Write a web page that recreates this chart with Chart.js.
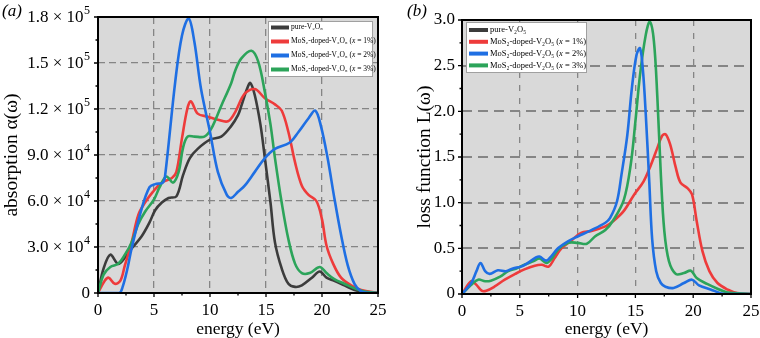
<!DOCTYPE html>
<html>
<head>
<meta charset="utf-8">
<script src="https://cdn.jsdelivr.net/npm/chart.js@4.4.1/dist/chart.umd.min.js"></script>
<style>
  body { margin: 0; background: #fff; }
  #wrap { position: relative; width: 760px; height: 338px; overflow: hidden; }
  canvas { position: absolute; top: 0; }
</style>
</head>
<body>
<div id="wrap">
  <canvas id="chartA" width="400" height="338" style="left:0"></canvas>
  <canvas id="chartB" width="380" height="338" style="left:380px"></canvas>
</div>
<script>
const seriesNames = ['pure-V₂O₅', 'MoS₂-doped-V₂O₅ (x = 1%)', 'MoS₂-doped-V₂O₅ (x = 2%)', 'MoS₂-doped-V₂O₅ (x = 3%)'];
const seriesColors = ['#3c3c3c', '#ee3b3b', '#1f6fe3', '#2ca45a'];
// (a) y tick labels: mantissa × 10^exponent
const absTickBase = ['0', '3.0 × 10', '6.0 × 10', '9.0 × 10', '1.2 × 10', '1.5 × 10', '1.8 × 10'];
const absTickExp = ['', '4', '4', '4', '5', '5', '5'];
const lossTickLabels = ['0', '0.5', '1.0', '1.5', '2.0', '2.5', '3.0'];

// (a) absorption, values in units of 1e4
const absPureE = [0, 0.5, 1.1, 1.8, 2.4, 3.0, 3.9, 4.6, 5.1, 5.7, 6.3, 7.0, 7.6, 8.2, 8.9, 10.0, 11.0, 11.9, 12.5, 12.8, 13.3, 13.6, 14.0, 14.5, 14.9, 15.4, 15.8, 16.4, 17.0, 17.6, 18.2, 19.1, 19.8, 20.4, 21.1, 22.0, 22.9, 24.0, 25];
const absPureV = [0, 1.6, 2.5, 1.9, 2.3, 2.9, 3.7, 4.6, 5.4, 5.9, 6.2, 6.3, 7.7, 8.8, 9.4, 10.0, 10.2, 10.9, 11.6, 12.2, 13.3, 13.7, 12.9, 11.0, 8.8, 5.9, 3.3, 1.6, 0.6, 0.4, 0.5, 1.0, 1.4, 1.0, 0.8, 0.5, 0.2, 0.05, 0];
const abs1E = [0, 0.6, 0.95, 1.5, 2.0, 2.4, 3.0, 3.6, 4.2, 4.9, 5.7, 6.6, 7.0, 7.5, 8.0, 8.3, 8.9, 9.8, 10.7, 11.6, 12.25, 13.1, 14.0, 14.9, 15.8, 16.4, 17.0, 17.6, 18.2, 18.8, 19.5, 20.0, 20.4, 21.0, 21.7, 22.6, 23.5, 25];
const abs1V = [0, 0.8, 1.0, 0.6, 0.8, 1.8, 3.3, 5.1, 5.9, 6.6, 7.2, 7.5, 7.9, 10.1, 12.1, 12.5, 11.7, 11.5, 11.3, 11.2, 11.8, 13.0, 13.3, 12.7, 12.3, 11.9, 10.5, 8.5, 7.0, 6.4, 6.0, 4.8, 3.1, 1.9, 1.0, 0.5, 0.2, 0];
const abs2E = [0, 1.9, 2.2, 2.6, 3.0, 3.9, 4.6, 5.1, 5.8, 6.0, 6.9, 7.5, 8.1, 8.6, 9.2, 10.0, 10.7, 11.5, 11.9, 12.5, 13.1, 14.0, 14.9, 15.8, 17.1, 17.9, 18.8, 19.4, 19.9, 20.5, 21.1, 21.7, 22.3, 22.9, 23.5, 24.2, 25];
const abs2V = [0, 0, 0.4, 1.5, 2.9, 5.5, 6.9, 7.1, 7.2, 7.7, 13.8, 16.8, 17.9, 16.4, 13.3, 10.5, 7.9, 6.4, 6.2, 6.6, 7.0, 7.9, 8.8, 9.4, 9.8, 10.5, 11.4, 11.9, 10.9, 8.8, 6.2, 3.8, 1.8, 0.6, 0.1, 0, 0];
const abs3E = [0, 0.5, 1.1, 1.8, 2.4, 3.0, 3.6, 4.2, 5.0, 5.5, 6.1, 6.7, 7.2, 7.6, 8.0, 8.6, 9.5, 10.1, 11.0, 11.9, 12.25, 12.8, 13.7, 14.3, 14.9, 15.4, 15.8, 16.4, 17.0, 17.6, 18.2, 18.9, 19.8, 20.4, 21.1, 22.0, 22.9, 23.8, 25];
const abs3V = [0, 1.2, 1.7, 1.9, 2.5, 3.3, 4.5, 5.3, 6.1, 6.9, 7.6, 7.2, 7.9, 9.5, 10.2, 10.2, 10.2, 10.7, 12.2, 13.7, 14.5, 15.3, 15.8, 15.1, 13.1, 11.0, 8.8, 5.9, 3.5, 1.9, 1.3, 1.3, 1.7, 1.3, 0.9, 0.6, 0.3, 0.1, 0];

// (b) loss function
const lossPureE = []; // pure-V2O5 curve is hidden under the others in the figure
const lossPureV = [];
const loss1E = [0, 0.8, 1.25, 1.7, 2.1, 2.8, 3.7, 4.6, 5.4, 6.3, 6.9, 7.5, 8.0, 8.6, 9.5, 10.3, 11.2, 12.4, 13.1, 14.0, 14.9, 15.7, 16.3, 16.9, 17.3, 17.6, 18.0, 18.5, 18.9, 19.5, 19.9, 20.3, 20.8, 21.4, 22.1, 23.0, 23.8, 25];
const loss1V = [0, 0.14, 0.10, 0.036, 0.036, 0.08, 0.157, 0.22, 0.27, 0.31, 0.32, 0.30, 0.39, 0.50, 0.59, 0.67, 0.69, 0.74, 0.80, 0.91, 1.09, 1.23, 1.40, 1.60, 1.73, 1.75, 1.64, 1.38, 1.22, 1.16, 1.09, 0.80, 0.47, 0.25, 0.12, 0.047, 0.01, 0];
const loss2E = [0, 0.8, 1.25, 1.6, 2.0, 2.4, 3.1, 3.8, 4.4, 5.1, 5.7, 6.4, 6.7, 7.3, 7.7, 8.3, 9.2, 10.0, 11.2, 12.4, 12.8, 13.4, 13.8, 14.3, 14.7, 15.1, 15.4, 15.65, 15.9, 16.2, 16.45, 16.8, 17.2, 17.6, 18.3, 19.2, 19.9, 20.5, 21.5, 22.7, 25];
const loss2V = [0, 0.12, 0.25, 0.34, 0.25, 0.22, 0.26, 0.25, 0.28, 0.30, 0.34, 0.40, 0.41, 0.365, 0.41, 0.50, 0.58, 0.63, 0.70, 0.78, 0.83, 1.01, 1.31, 1.74, 2.26, 2.62, 2.69, 2.45, 1.96, 1.23, 0.60, 0.25, 0.12, 0.08, 0.066, 0.12, 0.157, 0.095, 0.05, 0.0, 0];
const loss3E = [0, 0.8, 1.4, 2.0, 2.5, 3.3, 4.0, 4.7, 5.4, 6.2, 6.7, 7.3, 7.7, 8.3, 9.2, 10.0, 10.8, 11.5, 12.4, 13.1, 14.0, 14.6, 15.0, 15.4, 15.9, 16.25, 16.6, 16.9, 17.2, 17.5, 17.9, 18.5, 19.2, 19.8, 20.3, 21.2, 22.1, 22.9, 25];
const loss3V = [0, 0.10, 0.157, 0.14, 0.146, 0.19, 0.25, 0.28, 0.32, 0.36, 0.39, 0.34, 0.376, 0.485, 0.56, 0.56, 0.55, 0.63, 0.70, 0.81, 1.03, 1.42, 1.89, 2.40, 2.84, 2.98, 2.77, 2.15, 1.31, 0.69, 0.36, 0.22, 0.23, 0.255, 0.175, 0.11, 0.058, 0.02, 0];

const serif = '"Liberation Serif", "DejaVu Serif", serif';

function pts(xs, ys, k) {
  return xs.map((x, i) => ({ x: x, y: ys[i] * k }));
}

function series(i, xs, ys, k, order) {
  return {
    label: seriesNames[i],
    data: pts(xs, ys, k),
    borderColor: seriesColors[i],
    borderWidth: 2.6,
    pointRadius: 0,
    fill: false,
    tension: 0.35,
    order: order
  };
}

function drawLabel(ctx, text, x, y, size) {
  const cut = text.indexOf('(x');
  ctx.font = size + 'px ' + serif;
  if (cut < 0) { ctx.fillText(text, x, y); return; }
  const a = text.slice(0, cut + 1);
  const rest = text.slice(cut + 2);
  ctx.fillText(a, x, y);
  x += ctx.measureText(a).width;
  ctx.font = 'italic ' + size + 'px ' + serif;
  ctx.fillText('x', x, y);
  x += ctx.measureText('x').width;
  ctx.font = size + 'px ' + serif;
  ctx.fillText(rest, x, y);
}

const framePlugin = {
  id: 'frame',
  beforeDraw(chart, args, o) {
    const { ctx, chartArea: a } = chart;
    ctx.save();
    ctx.fillStyle = '#d9d9d9';
    ctx.fillRect(a.left, a.top, a.right - a.left, a.bottom - a.top);
    ctx.restore();
  },
  afterDraw(chart, args, o) {
    const { ctx, chartArea: a } = chart;
    const xs = chart.scales.x, ys = chart.scales.y;
    ctx.save();
    ctx.strokeStyle = '#000';
    // major and minor ticks, pointing out of the frame
    ctx.lineWidth = 1.3;
    ctx.beginPath();
    xs.ticks.forEach((t, i) => {
      const px = xs.getPixelForValue(t.value);
      ctx.moveTo(px, a.bottom); ctx.lineTo(px, a.bottom + 4);
      if (i > 0) {
        const pm = xs.getPixelForValue((xs.ticks[i - 1].value + t.value) / 2);
        ctx.moveTo(pm, a.bottom); ctx.lineTo(pm, a.bottom + 2.5);
      }
    });
    ys.ticks.forEach((t, i) => {
      const py = ys.getPixelForValue(t.value);
      ctx.moveTo(a.left, py); ctx.lineTo(a.left - 4, py);
      if (i > 0) {
        const pm = ys.getPixelForValue((ys.ticks[i - 1].value + t.value) / 2);
        ctx.moveTo(a.left, pm); ctx.lineTo(a.left - 2.5, pm);
      }
    });
    ctx.stroke();
    // frame
    ctx.lineWidth = 2;
    ctx.strokeRect(a.left, a.top, a.right - a.left, a.bottom - a.top);
    ctx.fillStyle = '#000';
    // y tick labels with superscript exponents
    if (o.expLabels) {
      ctx.textBaseline = 'middle';
      ys.ticks.forEach((t, i) => {
        const py = ys.getPixelForValue(t.value);
        const base = o.expLabels.base[i], exp = o.expLabels.exp[i];
        let x = a.left - 8;
        ctx.textAlign = 'right';
        if (exp) {
          ctx.font = '12px ' + serif;
          ctx.fillText(exp, x, py - 6);
          x -= ctx.measureText(exp).width + 0.5;
        }
        ctx.font = '17px ' + serif;
        ctx.fillText(base, x, py + 1);
      });
      ctx.textAlign = 'left';
    }
    // panel tag
    ctx.textBaseline = 'alphabetic';
    ctx.font = 'italic 17px ' + serif;
    ctx.fillText(o.tag, o.tagX, o.tagY);
    // legend box
    const L = o.legend;
    ctx.fillStyle = '#fff';
    ctx.fillRect(L.x, L.y, L.w, L.h);
    ctx.strokeStyle = '#a0a0a0';
    ctx.lineWidth = 1;
    ctx.strokeRect(L.x + 0.5, L.y + 0.5, L.w - 1, L.h - 1);
    ctx.textBaseline = 'middle';
    chart.data.datasets.forEach((ds, i) => {
      const y = L.y + L.first + i * L.row;
      ctx.strokeStyle = ds.borderColor;
      ctx.lineWidth = 4;
      ctx.beginPath();
      ctx.moveTo(L.x + 3, y);
      ctx.lineTo(L.x + 3 + L.line, y);
      ctx.stroke();
      ctx.fillStyle = '#000';
      drawLabel(ctx, ds.label, L.x + 5 + L.line, y, L.font);
    });
    ctx.restore();
  }
};

function axes(opts) {
  const tickFont = { family: serif, size: 17 };
  return {
    x: {
      type: 'linear', min: 0, max: 25,
      ticks: { stepSize: 5, color: '#000', font: tickFont, padding: opts.xPad, maxRotation: 0 },
      grid: { color: '#858585', lineWidth: opts.vGridW, drawTicks: false },
      border: { display: false, dash: opts.vDash },
      title: { display: true, text: 'energy (eV)', color: '#000', font: { family: serif, size: 17.5, lineHeight: 1 }, padding: { top: 0, bottom: 0 } },
      afterFit(s) { s.height = opts.xH; s.paddingLeft = 0; s.paddingRight = 0; }
    },
    y: {
      type: 'linear', min: 0, max: opts.yMax,
      ticks: { display: opts.yTicks, stepSize: opts.yStep, color: '#000', font: tickFont, padding: opts.yPad,
               callback: (v, i) => opts.yLabels[i] },
      grid: { color: '#858585', lineWidth: opts.hGridW, drawTicks: false },
      border: { display: false, dash: opts.hDash },
      title: { display: true, text: opts.yTitle, color: '#000', font: { family: serif, size: 19.5, lineHeight: 1 }, padding: { top: opts.yTitlePad } },
      afterFit(s) { s.width = opts.yW; s.paddingTop = 0; s.paddingBottom = 0; }
    }
  };
}

new Chart(document.getElementById('chartA'), {
  type: 'line',
  data: {
    datasets: [
      series(0, absPureE, absPureV, 1e4, 3),
      series(1, abs1E, abs1V, 1e4, 2),
      series(2, abs2E, abs2V, 1e4, 0),
      series(3, abs3E, abs3V, 1e4, 1)
    ]
  },
  options: {
    responsive: false,
    animation: false,
    devicePixelRatio: 1,
    layout: { padding: { left: 0, top: 17, right: 22, bottom: 0 } },
    scales: axes({ xH: 45, yW: 98, xPad: 7, yPad: 4, yMax: 180000, yStep: 30000, yLabels: absTickBase, yTicks: false,
                   yTitle: 'absorption α(ω)', yTitlePad: 2.5, vGridW: 1.3, hGridW: 1.3, vDash: [7, 5], hDash: [7, 4] }),
    plugins: {
      legend: { display: false },
      tooltip: { enabled: false },
      frame: { tag: '(a)', tagX: 2, tagY: 16, expLabels: { base: absTickBase, exp: absTickExp },
               legend: { x: 268, y: 21, w: 105, h: 56, first: 6.5, row: 14, line: 18, font: 7.5 } }
    }
  },
  plugins: [framePlugin]
});

new Chart(document.getElementById('chartB'), {
  type: 'line',
  data: {
    datasets: [
      series(0, lossPureE, lossPureV, 1, 3),
      series(1, loss1E, loss1V, 1, 2),
      series(2, loss2E, loss2V, 1, 0),
      series(3, loss3E, loss3V, 1, 1)
    ]
  },
  options: {
    responsive: false,
    animation: false,
    devicePixelRatio: 1,
    layout: { padding: { left: 0, top: 20, right: 9, bottom: 0 } },
    scales: axes({ xH: 44, yW: 82, xPad: 7, yPad: 7, yMax: 3, yStep: 0.5, yLabels: lossTickLabels, yTicks: true,
                   yTitle: 'loss function L(ω)', yTitlePad: 35.5, vGridW: 1.3, hGridW: 2, vDash: [6, 7], hDash: [10, 6] }),
    plugins: {
      legend: { display: false },
      tooltip: { enabled: false },
      frame: { tag: '(b)', tagX: 27, tagY: 16,
               legend: { x: 86, y: 22, w: 121, h: 51, first: 8, row: 11.8, line: 19, font: 8.5 } }
    }
  },
  plugins: [framePlugin]
});
</script>
</body>
</html>
